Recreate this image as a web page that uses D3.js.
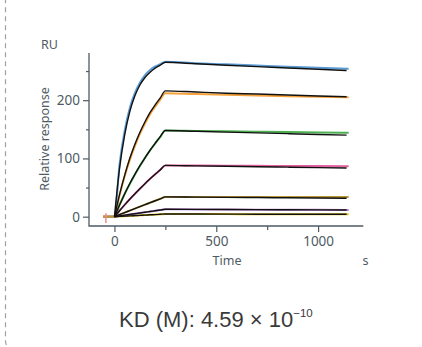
<!DOCTYPE html>
<html><head><meta charset="utf-8">
<script src="https://cdn.jsdelivr.net/npm/d3@7"></script>
<style>body{margin:0;background:#fff;}svg{display:block;}</style>
</head><body>
<svg id="c" width="422" height="347"></svg>
<script>
// ---- data ----
const dataTimes = [-55, 0, 25, 50, 75, 100, 125, 150, 175, 200, 225, 250, 400, 550, 700, 850, 1000, 1150];
const fitTimes = [0, 25, 50, 75, 100, 125, 150, 175, 200, 225, 250, 400, 550, 700, 850, 1000, 1140];

const seriesNames = ["c1", "c2", "c3", "c4", "c5", "c6", "c7"];
const seriesColors = ["#5b9bd5", "#f5a23a", "#4caf50", "#e0609e", "#e2c21a", "#b27ccc", "#b8973a"];

const blueData   = [0, 0, 90, 147, 186, 212, 230, 243, 252, 258, 262, 266, 263.5, 261.5, 259.5, 257.5, 255.8, 254];
const orangeData = [0, 0, 37, 69, 97, 121, 142, 160, 176, 189, 201, 212, 210.5, 209.2, 208, 206.9, 205.9, 205];
const greenData  = [0, 0, 20, 39, 56, 72, 87, 101, 114, 126, 137, 148, 147.3, 146.6, 145.9, 145.2, 144.6, 144];
const pinkData   = [0, 0, 10.3, 20.3, 29.9, 39, 48, 56.7, 65, 72.8, 80.4, 88, 87.8, 87.5, 87.3, 87.0, 86.8, 86.6];
const yellowData = [0, 0, 0.5, 0.9, 1.4, 1.8, 2.3, 2.7, 3.2, 3.6, 4.1, 4.6, 4.5, 4.4, 4.3, 4.3, 4.2, 4.1];
const purpleData = [0, 0, 1.3, 2.6, 3.9, 5.1, 6.4, 7.6, 8.9, 10.1, 11.4, 12.7, 12.5, 12.3, 12.1, 11.9, 11.7, 11.5];
const oliveData  = [0, 0, 3.5, 7, 10.4, 13.8, 17.2, 20.6, 24, 27.3, 30.7, 34, 34, 33.9, 33.9, 33.9, 33.8, 33.8];

const blueFit   = [0, 83, 140, 180, 207, 226, 239, 248, 255, 260, 265, 262.5, 260, 257.6, 255.3, 253, 251];
const orangeFit = [0, 38, 71, 100, 124, 145, 163, 179, 192, 204, 216, 214, 212, 210.5, 208.8, 207.3, 206];
const greenFit  = [0, 20, 39, 56.5, 72.6, 87.6, 101, 114, 126, 137.5, 148, 146.6, 145.2, 143.8, 142.5, 141.2, 140];
const pinkFit   = [0, 10.3, 20.3, 29.9, 39, 48, 56.7, 65, 72.8, 80.4, 88, 87.2, 86.5, 85.7, 85.0, 84.3, 83.7];
const yellowFit = [0, 0.5, 0.9, 1.4, 1.8, 2.3, 2.7, 3.2, 3.6, 4.1, 4.6, 4.5, 4.4, 4.3, 4.3, 4.2, 4.1];
const purpleFit = [0, 1.3, 2.6, 3.9, 5.1, 6.4, 7.6, 8.9, 10.1, 11.4, 12.7, 12.5, 12.3, 12.1, 11.9, 11.7, 11.5];
const oliveFit  = [0, 3.5, 7, 10.4, 13.8, 17.2, 20.6, 24, 27.3, 30.7, 34, 33.6, 33.2, 32.8, 32.4, 32, 31.6];

const dataSeries = [blueData, orangeData, greenData, pinkData, yellowData, purpleData, oliveData];
const fitSeries = [blueFit, orangeFit, greenFit, pinkFit, yellowFit, purpleFit, oliveFit];

const spikeTimes = [-42, -42];
const spikeValues = [6, -11];

const xMajorTicks = [0, 500, 1000];
const xMinorTicks = [250, 750];
const yMajorTicks = [0, 100, 200];
const yMinorTicks = [50, 150, 250];

const yUnit = "RU", yTitle = "Relative response", xTitle = "Time", xUnit = "s";
const kdLabel = "KD (M): 4.59 × 10", kdExp = "−10";

// ---- drawing ----
const svg = d3.select("#c");
const axisColor = "#4e5b65";
const font = "'Noto Sans', 'Open Sans', sans-serif";

// dashed card border
svg.append("rect").attr("x", 5.5).attr("y", -10).attr("width", 440).attr("height", 360)
  .attr("rx", 9).attr("fill", "none").attr("stroke", "#a0a0a0").attr("stroke-width", 1.2)
  .attr("stroke-dasharray", "5,4");

const x = d3.scaleLinear().domain([-125, 1222]).range([89, 363.3]);
const y = d3.scaleLinear().domain([-16, 281]).range([226, 53]);

const line = d3.line().x(d => x(d[0])).y(d => y(d[1])).curve(d3.curveMonotoneX);

const g = svg.append("g");
// data lines
dataSeries.forEach((vals, i) => {
  g.append("path").datum(dataTimes.map((t, j) => [t, vals[j]]))
    .attr("d", line).attr("fill", "none").attr("stroke", seriesColors[i])
    .attr("stroke-width", 2);
});
// spike
g.append("path").datum(spikeTimes.map((t, j) => [t, spikeValues[j]]))
  .attr("d", d3.line().x(d => x(d[0])).y(d => y(d[1])))
  .attr("stroke", "#f08a8a").attr("stroke-width", 1.5).attr("fill", "none");
// fit lines
fitSeries.forEach((vals) => {
  g.append("path").datum(fitTimes.map((t, j) => [t, vals[j]]))
    .attr("d", line).attr("fill", "none").attr("stroke", "#111")
    .attr("stroke-width", 1.4);
});

// axes
const xAxis = svg.append("g").attr("transform", `translate(0,${y(-16)})`);
xAxis.call(d3.axisBottom(x).tickValues(xMajorTicks).tickSize(6).tickPadding(4).tickFormat(d3.format("d")));
xAxis.append("g").call(d3.axisBottom(x).tickValues(xMinorTicks).tickSize(4).tickFormat(""));
const yAxis = svg.append("g").attr("transform", `translate(${x(-125)},0)`);
yAxis.call(d3.axisLeft(y).tickValues(yMajorTicks).tickSize(6).tickPadding(3).tickFormat(d3.format("d")));
yAxis.append("g").call(d3.axisLeft(y).tickValues(yMinorTicks).tickSize(3).tickFormat(""));

svg.selectAll(".domain").remove();
svg.selectAll(".tick line").attr("stroke", axisColor).attr("stroke-width", 1.2);
svg.selectAll(".tick text").attr("fill", axisColor).style("font-family", font).style("font-size", "13.5px");

// axis lines (L shape)
svg.append("path")
  .attr("d", `M${x(-125)},${y(281)}V${y(-16)}H${x(1222)}`)
  .attr("fill", "none").attr("stroke", axisColor).attr("stroke-width", 1.3);

// titles
svg.append("text").attr("x", 49.5).attr("y", 48.5).attr("text-anchor", "middle")
  .attr("fill", axisColor).style("font-family", font).style("font-size", "12.5px").text(yUnit);
svg.append("text").attr("transform", "translate(49,139) rotate(-90)").attr("text-anchor", "middle")
  .attr("fill", axisColor).style("font-family", font).style("font-size", "12.5px").text(yTitle);
svg.append("text").attr("x", 227).attr("y", 265).attr("text-anchor", "middle")
  .attr("fill", axisColor).style("font-family", font).style("font-size", "12.5px").text(xTitle);
svg.append("text").attr("x", 365.5).attr("y", 265).attr("text-anchor", "middle")
  .attr("fill", axisColor).style("font-family", font).style("font-size", "12.5px").text(xUnit);

// KD label
const kd = svg.append("text").attr("x", 119).attr("y", 327)
  .attr("fill", "#3a3a3a").style("font-family", "'Liberation Sans', Arial, sans-serif").style("font-size", "22px");
kd.append("tspan").text(kdLabel);
kd.append("tspan").attr("dy", -10).style("font-size", "11.5px").text(kdExp);
</script>
</body></html>
